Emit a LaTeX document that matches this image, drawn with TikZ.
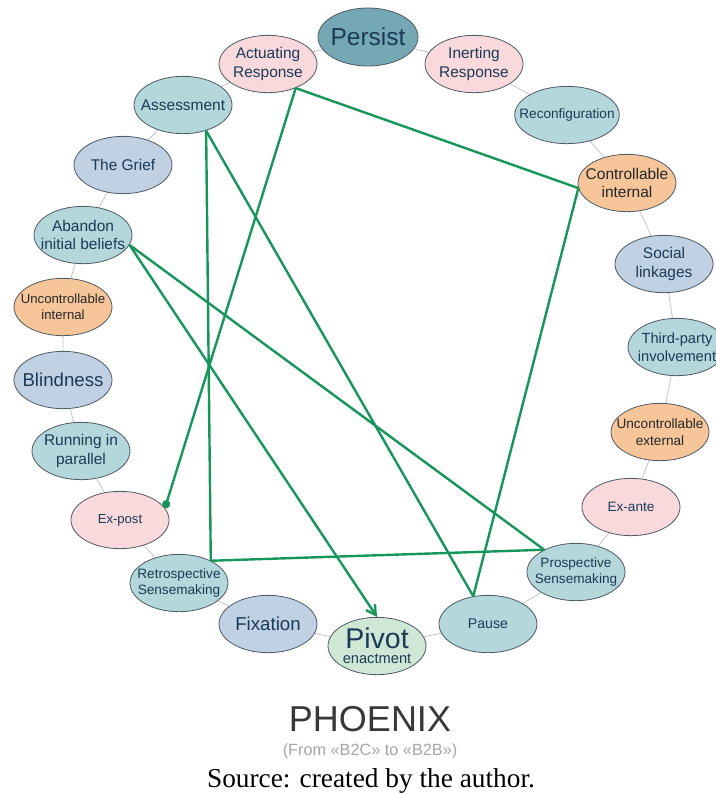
\documentclass[tikz,border=0pt]{standalone}
\usepackage{fontspec}
\setmainfont{Liberation Serif}
\setsansfont{Liberation Sans}
\usetikzlibrary{
    arrows.meta,
    shapes.geometric,
    backgrounds
}

\definecolor{tealfill}{HTML}{B4D7DB}
\definecolor{bluefill}{HTML}{BFD1E3}
\definecolor{pinkfill}{HTML}{F9D9DC}
\definecolor{orangefill}{HTML}{F6C69A}
\definecolor{pivotfill}{HTML}{CFE8D5}
\definecolor{persistfill}{HTML}{74A8B4}
\definecolor{edgegray}{HTML}{505A64}
\definecolor{labelblue}{HTML}{1B3A57}
\definecolor{linkgreen}{HTML}{17965A}
\definecolor{ringgray}{HTML}{C4C4C4}

\begin{document}
\begin{tikzpicture}[x=0.75pt,y=-0.75pt,
    bubble/.style={ellipse,draw=edgegray,line width=0.6pt,
        minimum width=73.5pt,minimum height=43pt,inner sep=-8pt,
        align=center,text=labelblue,
        font=\sffamily\fontsize{11.6}{14}\selectfont},
    tealbub/.style={bubble,fill=tealfill},
    bluebub/.style={bubble,fill=bluefill},
    pinkbub/.style={bubble,fill=pinkfill},
    orangebub/.style={bubble,fill=orangefill,text=black!85},
    smalltxt/.style={font=\sffamily\fontsize{10.2}{12.5}\selectfont},
    bigtxt/.style={font=\sffamily\fontsize{14}{16}\selectfont},
    link/.style={draw=linkgreen,line width=1.8pt},
    ring/.style={draw=ringgray,line width=0.6pt}]

\useasboundingbox (0,0) rectangle (716,794);

% Circle of stages
\node[bubble,fill=persistfill,minimum width=75pt,minimum height=43.5pt,
      font=\sffamily\fontsize{18.4}{20}\selectfont] (persist) at (368,37) {Persist};
\node[pinkbub] (inert) at (474,64) {Inerting\\Response};
\node[tealbub,smalltxt] (reconf) at (567,115) {Reconfiguration};
\node[orangebub] (ctrlint) at (627,183) {Controllable\\internal};
\node[bluebub] (social) at (664,264) {Social\\linkages};
\node[tealbub,font=\sffamily\fontsize{11}{13.5}\selectfont] (third) at (677,347) {Third-party\\involvement};
\node[orangebub,smalltxt] (uncext) at (660,432) {Uncontrollable\\external};
\node[pinkbub,smalltxt] (exante) at (631,507) {Ex-ante};
\node[tealbub,smalltxt] (prosp) at (576,572) {Prospective\\Sensemaking};
\node[tealbub,font=\sffamily\fontsize{10.6}{12.5}\selectfont] (pause) at (488,624) {Pause};
\node[bubble,fill=pivotfill,font=\sffamily\fontsize{11}{11}\selectfont] (pivot) at (377,646)
    {{\fontsize{21.4}{11}\selectfont Pivot}\\enactment};
\node[bluebub,bigtxt] (fixation) at (268,624) {Fixation};
\node[tealbub,smalltxt] (retro) at (179,583) {Retrospective\\Sensemaking};
\node[pinkbub,font=\sffamily\fontsize{9.8}{12}\selectfont] (expost) at (120,520) {Ex-post};
\node[tealbub] (running) at (81,451) {Running in\\parallel};
\node[bluebub,bigtxt] (blind) at (63,380) {Blindness};
\node[orangebub,font=\sffamily\fontsize{9.9}{12}\selectfont] (uncint) at (63,307) {Uncontrollable\\internal};
\node[tealbub] (abandon) at (83,235) {Abandon\\initial beliefs};
\node[bluebub] (grief) at (123,165) {The Grief};
\node[tealbub] (assess) at (183,105) {Assessment};
\node[pinkbub] (actresp) at (268,64) {Actuating\\Response};

% Thin ring between neighbours
\begin{scope}[on background layer]
\draw[ring] (persist) -- (inert) -- (reconf) -- (ctrlint) -- (social) -- (third)
    -- (uncext) -- (exante) -- (prosp) -- (pause) -- (pivot) -- (fixation)
    -- (retro) -- (expost) -- (running) -- (blind) -- (uncint) -- (abandon)
    -- (grief) -- (assess) -- (actresp) -- (persist);
\end{scope}

% Green links
\draw[link,-{Circle[length=6pt]}] (actresp.-41) -- (expost.15);
\draw[link] (actresp.-41) -- (ctrlint.186);
\draw[link] (ctrlint.186) -- (pause.118);
\draw[link] (assess.-48) -- (retro.35);
\draw[link] (assess.-48) -- (pause.118);
\draw[link] (retro.35) -- (prosp.145);
\draw[link] (abandon.-12) -- (prosp.145);
\draw[link,-{Straight Barb[length=7pt,width=8pt]}] (abandon.-12) -- (pivot.north);

% Title and source
\node[anchor=base,font=\sffamily\fontsize{27}{30}\selectfont,text=black!78] (title) at (370,731) {PHOENIX};
\node[anchor=base,font=\sffamily\fontsize{12.2}{14}\selectfont,text=black!35] (subtitle) at (370,755) {(From «B2C» to «B2B»)};
\node[anchor=base,font=\fontsize{20.5}{24}\selectfont] (source) at (371,787) {Source: created by the author.};

\end{tikzpicture}
\end{document}
